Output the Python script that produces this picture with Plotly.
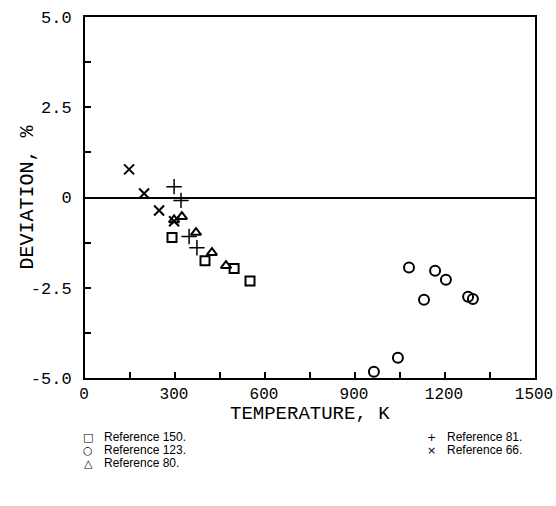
import plotly.graph_objects as go

# Deviation data (temperature in K, deviation in %)
ref150_t = [290, 400, 497, 550]
ref150_d = [-1.11, -1.75, -1.97, -2.31]

ref123_t = [963, 1043, 1080, 1130, 1167, 1203, 1277, 1293]
ref123_d = [-4.83, -4.44, -1.94, -2.83, -2.03, -2.28, -2.75, -2.81]

ref80_t = [297, 323, 370, 423, 470]
ref80_d = [-0.62, -0.53, -0.97, -1.53, -1.89]

ref81_t = [297, 320, 347, 373]
ref81_d = [0.30, -0.08, -1.08, -1.39]

ref66_t = [147, 197, 247, 297]
ref66_d = [0.78, 0.11, -0.36, -0.66]

x_ticks = [0, 300, 600, 900, 1200, 1500]
y_ticks = [-5, -2.5, 0, 2.5, 5]
y_ticktext = ["-5.0", "-2.5", "0", "2.5", "5.0"]

# legend rows: (symbol glyph, label, column, row)
legend_rows = [
    ("\u25a1", "Reference 150.", 0, 0),
    ("\u25cb", "Reference 123.", 0, 1),
    ("\u25b3", "Reference 80.", 0, 2),
    ("+", "Reference 81.", 1, 0),
    ("\u00d7", "Reference 66.", 1, 1),
]

mono = "Liberation Mono"
sans = "Liberation Sans"

fig = go.Figure()

fig.add_trace(go.Scatter(
    x=ref150_t, y=ref150_d, mode="markers", name="Reference 150.",
    marker=dict(symbol="square-open", size=9, color="black", line=dict(width=2)),
))
fig.add_trace(go.Scatter(
    x=ref123_t, y=ref123_d, mode="markers", name="Reference 123.",
    marker=dict(symbol="circle-open", size=10, color="black", line=dict(width=2)),
))
fig.add_trace(go.Scatter(
    x=ref80_t, y=ref80_d, mode="markers", name="Reference 80.",
    marker=dict(symbol="triangle-up-open", size=9, color="black", line=dict(width=2)),
))
fig.add_trace(go.Scatter(
    x=ref81_t, y=ref81_d, mode="markers", name="Reference 81.",
    marker=dict(symbol="cross-thin-open", size=11, color="black", line=dict(width=1.5)),
))
fig.add_trace(go.Scatter(
    x=ref66_t, y=ref66_d, mode="markers", name="Reference 66.",
    marker=dict(symbol="x-thin-open", size=10, color="black", line=dict(width=2)),
))

# plot area size in px (used to place the hand-made texts)
plot_w, plot_h = 450, 361

# hand-made legend in two columns under the plot
col_x = [88, 431]
row_y = [437, 450, 463]
for sym, label, col, row in legend_rows:
    px = (col_x[col] - 85) / plot_w
    py = (378 - row_y[row]) / plot_h
    fig.add_annotation(x=px, y=py, xref="paper", yref="paper", text=sym,
                       showarrow=False, xanchor="center", yanchor="middle",
                       font=dict(family="DejaVu Sans", size=11, color="black"))
    fig.add_annotation(x=px + 14 / plot_w, y=py, xref="paper", yref="paper", text=label,
                       showarrow=False, xanchor="left", yanchor="middle",
                       font=dict(family=sans, size=12, color="black"))

# axis titles
fig.add_annotation(x=-58 / plot_w, y=0.5, xref="paper", yref="paper",
                   text="DEVIATION, %", textangle=-90, showarrow=False,
                   xanchor="center", yanchor="middle",
                   font=dict(family=mono, size=20, color="black"))
fig.add_annotation(x=0.5, y=-36 / plot_h, xref="paper", yref="paper",
                   text="TEMPERATURE, K", showarrow=False,
                   xanchor="center", yanchor="middle",
                   font=dict(family=mono, size=19, color="black"))

fig.update_layout(
    width=556, height=506,
    margin=dict(l=85, r=21, t=17, b=128, autoexpand=False),
    paper_bgcolor="white", plot_bgcolor="white",
    showlegend=False,
    font=dict(family=mono, size=16, color="black"),
    xaxis=dict(
        range=[0, 1500], tickvals=x_ticks,
        ticks="inside", ticklen=6, tickwidth=1.5, tickcolor="black",
        minor=dict(dtick=150, ticks="inside", ticklen=6, tickwidth=1.5, tickcolor="black"),
        showgrid=False, zeroline=False,
        showline=True, linecolor="black", linewidth=2, mirror=True,
        ticklabelshift=-1,
        tickfont=dict(family=mono, size=16),
    ),
    yaxis=dict(
        range=[-5, 5], tickvals=y_ticks, ticktext=y_ticktext,
        ticks="inside", ticklen=6, tickwidth=1.5, tickcolor="black",
        minor=dict(dtick=1.25, ticks="inside", ticklen=6, tickwidth=1.5, tickcolor="black"),
        showgrid=False, zeroline=True, zerolinecolor="black", zerolinewidth=2,
        showline=True, linecolor="black", linewidth=2, mirror=True,
        ticklabelstandoff=8,
        tickfont=dict(family=mono, size=17),
    ),
)

# drop the page's default body margin so the figure fills the window; hide the modebar
fig.write_html("out.html", config={"displayModeBar": False},
               post_script="document.body.style.margin='0';")
